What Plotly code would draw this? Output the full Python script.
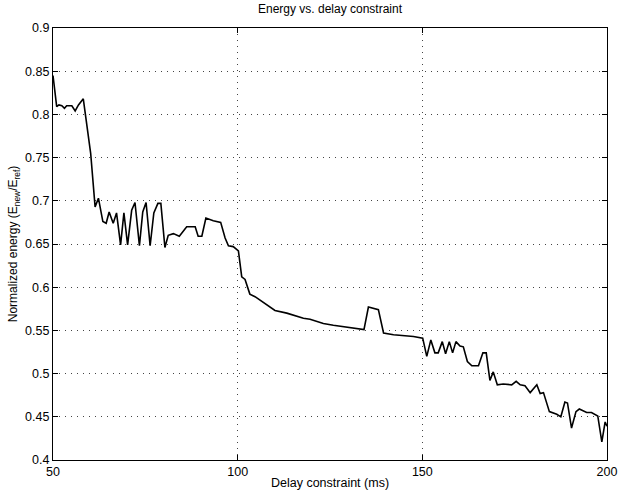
import plotly.graph_objects as go

delay_ms = [50, 51.0, 51.6, 52.4, 53.1, 53.7, 55.1, 56.0, 56.9, 58.2, 60.2, 61.4, 62.3,
            62.7, 63.5, 64.4, 65.2, 66.3, 67.2, 68.3, 69.2, 70.2, 71.3, 72.2, 73.4, 74.3,
            75.2, 76.3, 77.3, 78.4, 79.2, 80.3, 81.2, 82.6, 84.2, 86.2, 88.5, 89.3, 90.3,
            91.4, 93.4, 95.4, 96.6, 97.5, 98.8, 100.2, 101.1, 102.0, 103.3, 104.7, 110.1,
            113.3, 117.8, 119.6, 123.2, 125.9, 129.5, 134.2, 135.4, 138.1, 139.5, 142.2,
            147.6, 150.1, 151.2, 152.3, 153.4, 154.3, 155.4, 156.3, 157.3, 158.2, 159.1,
            160.2, 161.1, 162.2, 163.4, 165.2, 166.4, 167.3, 168.3, 169.2, 170.3, 171.9,
            174.2, 175.4, 176.5, 177.8, 179.2, 181.0, 181.9, 182.8, 184.4, 186.4, 187.5,
            188.6, 189.3, 190.4, 191.6, 192.5, 194.5, 195.8, 197.5, 198.6, 199.5, 200]
energy = [0.845, 0.809, 0.811, 0.810, 0.807, 0.810, 0.810, 0.804, 0.811, 0.818, 0.755,
          0.693, 0.703,
          0.695, 0.676, 0.674, 0.687, 0.674, 0.686, 0.649, 0.686, 0.649, 0.689, 0.698,
          0.648, 0.687, 0.698, 0.648, 0.686, 0.697, 0.697, 0.646, 0.660, 0.662, 0.659,
          0.670, 0.670, 0.659, 0.659, 0.680, 0.677, 0.675, 0.657, 0.648, 0.647, 0.642,
          0.612, 0.609, 0.592, 0.589, 0.573, 0.570, 0.564, 0.563, 0.558, 0.556, 0.554,
          0.551, 0.577, 0.574, 0.547, 0.545, 0.543, 0.541, 0.520, 0.539, 0.524, 0.524,
          0.537, 0.523, 0.537, 0.524, 0.537, 0.532, 0.531, 0.514, 0.509, 0.509, 0.524,
          0.524, 0.492, 0.502, 0.487, 0.488, 0.487, 0.491, 0.487, 0.486, 0.478, 0.487,
          0.477, 0.478, 0.456, 0.453, 0.450, 0.467, 0.466, 0.437, 0.456, 0.459, 0.455,
          0.455, 0.451, 0.421, 0.444, 0.439]

x_ticks = [50, 100, 150, 200]
y_ticks = [0.4, 0.45, 0.5, 0.55, 0.6, 0.65, 0.7, 0.75, 0.8, 0.85, 0.9]
y_tick_labels = ["0.4", "0.45", "0.5", "0.55", "0.6", "0.65", "0.7", "0.75", "0.8", "0.85", "0.9"]

fig = go.Figure()
fig.add_trace(go.Scatter(x=delay_ms, y=energy, mode="lines",
                         line=dict(color="black", width=1.6), showlegend=False))

font_family = "Liberation Sans, Arial, Helvetica, sans-serif"
fig.update_layout(
    width=618, height=490,
    margin=dict(l=53, r=11, t=28, b=30, autoexpand=False),
    paper_bgcolor="white", plot_bgcolor="white",
    font=dict(family=font_family, size=12, color="black"),
    title=dict(text="Energy vs. delay constraint", x=0.5, xref="paper",
               y=1, yref="container", yanchor="top", pad=dict(t=5),
               font=dict(size=12, color="black")),
)
grid_style = dict(showgrid=True, gridcolor="#444444", griddash="1px,5px", gridwidth=1)
fig.update_xaxes(range=[50, 200], tickvals=x_ticks, ticktext=[str(v) for v in x_ticks],
                 showline=True, linecolor="black", linewidth=1.2, mirror="ticks",
                 ticks="inside", ticklen=5, tickcolor="black", automargin=False,
                 zeroline=False, tickfont=dict(size=12.5),
                 title=dict(text="Delay constraint (ms)", standoff=2, font=dict(size=12.5)),
                 **grid_style)
fig.update_yaxes(range=[0.4, 0.9], tickvals=y_ticks, ticktext=y_tick_labels,
                 showline=True, linecolor="black", linewidth=1.2, mirror="ticks",
                 ticks="inside", ticklen=5, tickcolor="black", automargin=False,
                 zeroline=False, tickfont=dict(size=12.5),
                 title=dict(text="Normalized energy (E<sub>new</sub>/E<sub>ref</sub>)",
                            standoff=4, font=dict(size=12)),
                 **grid_style)

fig.write_html("out.html")
